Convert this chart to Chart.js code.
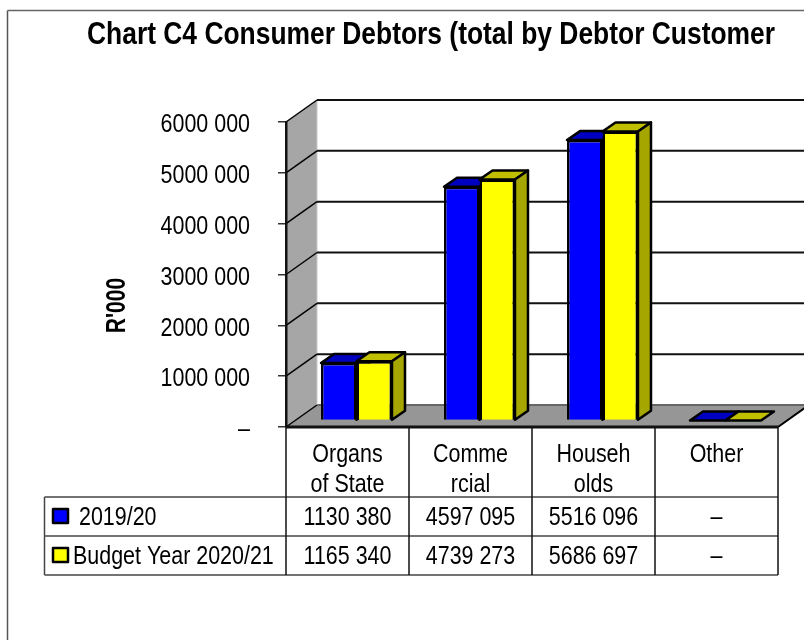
<!DOCTYPE html>
<html>
<head>
<meta charset="utf-8">
<title>Consumer Debtors</title>
<script src="https://cdn.jsdelivr.net/npm/chart.js@4/dist/chart.umd.min.js"></script>
<style>
  html, body { margin: 0; padding: 0; background: #fff; }
  canvas { display: block; }
</style>
</head>
<body>
<canvas id="chart" width="804" height="640"></canvas>
<script>
const categories = [["Organs", "of State"], ["Comme", "rcial"], ["Househ", "olds"], ["Other"]];
const values2019 = [1130380, 4597095, 5516096, 0];
const values2020 = [1165340, 4739273, 5686697, 0];
const yTickLabels = ["–", "1000 000", "2000 000", "3000 000", "4000 000", "5000 000", "6000 000"];

const FONT = '"Liberation Sans", Arial, sans-serif';
const WALL_DX = 31, WALL_DY = -22;   // depth of the floor and side wall
const BAR_SHIFT_X = 9, BAR_SHIFT_Y = -6.5;  // bars stand a little behind the front edge
const BAR_DX = 13, BAR_DY = -9;      // depth of each bar
const SQUEEZE = 0.825;

// thousands group only, the way the source table prints them
const fmt = (v) => {
  if (!v) return "–";
  const s = String(v);
  return s.slice(0, -3) + " " + s.slice(-3);
};

const canvas = document.getElementById("chart");
const context = canvas.getContext("2d");

// no narrow face is installed, so all text is squeezed around its anchor point.
// the library's maxWidth is dropped, it would shrink the title a second time
const plainFillText = context.fillText.bind(context);
context.fillText = function (text, x, y) {
  context.save();
  context.translate(x, y);
  context.scale(SQUEEZE, 1);
  plainFillText(text, 0, 0);
  context.restore();
};

function poly(ctx, pts, fill, stroke, lw) {
  ctx.beginPath();
  pts.forEach((p, i) => (i ? ctx.lineTo(p[0], p[1]) : ctx.moveTo(p[0], p[1])));
  ctx.closePath();
  if (fill) { ctx.fillStyle = fill; ctx.fill(); }
  if (stroke) { ctx.strokeStyle = stroke; ctx.lineWidth = lw; ctx.lineJoin = "round"; ctx.stroke(); }
}

function line(ctx, x1, y1, x2, y2, color, lw) {
  ctx.beginPath();
  ctx.moveTo(x1, y1);
  ctx.lineTo(x2, y2);
  ctx.strokeStyle = color;
  ctx.lineWidth = lw;
  ctx.stroke();
}

// side wall, floor, back gridlines, and the data table below the plot
const scenePlugin = {
  id: "scene",
  beforeDraw(chart) {
    const { ctx, chartArea: a, scales } = chart;
    const y = scales.y, x = scales.x;
    ctx.save();

    // outer frame, open at the right and bottom
    line(ctx, 7.5, 640, 7.5, 10.5, "#555", 1.5);
    line(ctx, 7.5, 10.5, 804, 10.5, "#666", 1.5);

    poly(ctx, [[a.left, a.top], [a.left + WALL_DX, a.top + WALL_DY],
      [a.left + WALL_DX, a.bottom + WALL_DY], [a.left, a.bottom]], "#a6a6a6");
    poly(ctx, [[a.left, a.bottom], [a.left + WALL_DX, a.bottom + WALL_DY],
      [a.right + WALL_DX, a.bottom + WALL_DY], [a.right, a.bottom]], "#969696");
    line(ctx, a.left + WALL_DX, a.bottom + WALL_DY, a.right + WALL_DX, a.bottom + WALL_DY, "#666", 2);
    line(ctx, a.left + WALL_DX, a.top + WALL_DY, a.left + WALL_DX, a.bottom + WALL_DY, "#c8c8c8", 1);

    y.ticks.forEach((t) => {
      const py = y.getPixelForValue(t.value);
      line(ctx, a.left, py, a.left + WALL_DX, py + WALL_DY, "#000", 1.5);
      if (t.value > 0) line(ctx, a.left + WALL_DX, py + WALL_DY, 804, py + WALL_DY, "#111", 2);
    });
    line(ctx, a.right, a.bottom, a.right + WALL_DX, a.bottom + WALL_DY, "#000", 2);
    line(ctx, a.left, a.bottom, a.right, a.bottom, "#111", 3);

    // data table
    const rows = [497, 536, 575];
    const left = 44.5;
    rows.forEach((ry) => line(ctx, left, ry, a.right, ry, "#444", 1.5));
    line(ctx, left, rows[0], left, rows[2], "#444", 1.5);
    const step = (a.right - a.left) / categories.length;
    for (let i = 0; i <= categories.length; i++) {
      const vx = a.left + i * step;
      line(ctx, vx, a.bottom, vx, rows[2], "#111", 1.5);
    }

    ctx.font = "26px " + FONT;
    ctx.fillStyle = "#000";
    ctx.textBaseline = "alphabetic";
    const baselines = [525, 564];
    chart.data.datasets.forEach((ds, r) => {
      ctx.textAlign = "center";
      ctx.fillStyle = "#000";
      ds.data.forEach((v, i) => ctx.fillText(fmt(v), x.getPixelForValue(i), baselines[r]));
      ctx.textAlign = "left";
      ctx.fillText(ds.label, r === 0 ? 79 : 73, baselines[r]);
      poly(ctx, [[53, rows[r] + 12], [68, rows[r] + 12], [68, rows[r] + 26], [53, rows[r] + 26]], ds.backgroundColor, "#000", 2.5);
    });

    // axis title sits below the middle of the value axis
    ctx.translate(125, 305.5);
    ctx.rotate(-Math.PI / 2);
    ctx.scale(0.78, 1);
    ctx.font = "bold 27px " + FONT;
    ctx.textAlign = "center";
    ctx.fillStyle = "#000";
    plainFillText("R'000", 0, 0);

    ctx.restore();
  },
  // the default order paints the left bar last, here the right bar has to overlap it
  beforeDatasetDraw() {
    return false;
  },
  afterDatasetsDraw(chart) {
    const { ctx } = chart;
    chart.data.datasets.forEach((ds, di) => {
      const meta = chart.getDatasetMeta(di);
      ctx.save();
      ctx.translate(BAR_SHIFT_X, BAR_SHIFT_Y);
      meta.data.forEach((el) => {
        el.draw(ctx);
        const l = el.x - el.width / 2, r = el.x + el.width / 2;
        poly(ctx, [[l, el.y], [l + BAR_DX, el.y + BAR_DY], [r + BAR_DX, el.y + BAR_DY], [r, el.y]], ds.topColor, "#000", 2.5);
        if (el.base - el.y > 0.5) {
          poly(ctx, [[r, el.y], [r + BAR_DX, el.y + BAR_DY], [r + BAR_DX, el.base + BAR_DY], [r, el.base]], ds.sideColor, "#000", 2.5);
        }
      });
      ctx.restore();
    });
  },
};

new Chart(canvas, {
  type: "bar",
  data: {
    labels: categories,
    datasets: [
      { label: "2019/20", data: values2019, backgroundColor: "#0000ff", topColor: "#0000c0", sideColor: "#0000a0",
        borderColor: "#000", borderWidth: 2.5 },
      { label: "Budget Year 2020/21", data: values2020, backgroundColor: "#ffff00", topColor: "#c0c000", sideColor: "#a6a600",
        borderColor: "#000", borderWidth: 2.5 },
    ],
  },
  options: {
    responsive: false,
    animation: false,
    devicePixelRatio: 1,
    layout: { padding: { left: 84, right: 26, top: 16, bottom: 0 } },
    categoryPercentage: 0.577,
    barPercentage: 1,
    plugins: {
      legend: { display: false },
      tooltip: { enabled: false },
      title: {
        display: true,
        text: "Chart C4 Consumer Debtors (total by Debtor Customer",
        color: "#000",
        font: { family: FONT, size: 32, weight: "bold", lineHeight: 1.2 },
        padding: { top: 0, bottom: 67.6 },
      },
    },
    scales: {
      x: {
        grid: { display: false },
        border: { display: false },
        ticks: { color: "#000", font: { family: FONT, size: 26, lineHeight: 1.15 }, padding: 5, maxRotation: 0, autoSkip: false },
        afterFit(scale) { scale.height = 213; },
      },
      y: {
        min: 0,
        max: 6000000,
        ticks: {
          stepSize: 1000000,
          color: "#000",
          padding: 28,
          labelOffset: 3,
          font: { family: FONT, size: 26 },
          callback: (v, i) => yTickLabels[i],
        },
        grid: { drawOnChartArea: false, tickLength: 8, color: "#333", lineWidth: 1.5 },
        border: { color: "#111", width: 2.5 },
        afterFit(scale) { scale.width = 202; },
      },
    },
  },
  plugins: [scenePlugin],
});
</script>
</body>
</html>
